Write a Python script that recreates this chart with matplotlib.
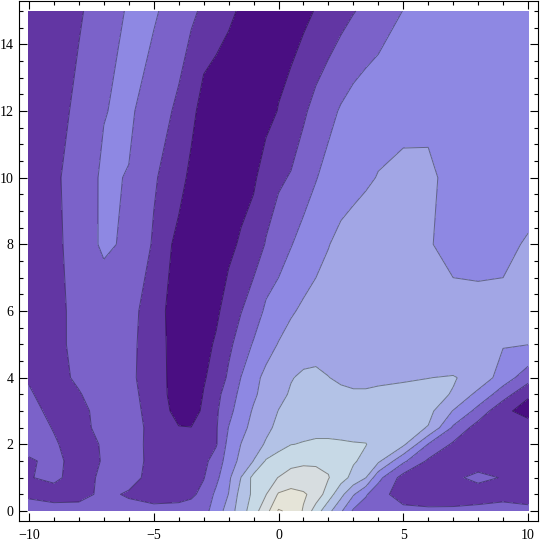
import numpy as np
import matplotlib.pyplot as plt

# grid (value k..k+1 = k-th shade band)
xs = [-10, -9, -8, -7, -6, -5, -4, -3.5, -3, -2.5, -2, -1.5, -1, -0.5, 0,
      0.5, 1, 1.5, 2, 2.5, 3, 3.5, 4, 5, 6, 7, 8, 9, 10]
ys = [0, 0.5, 1, 1.5, 2, 2.5, 3, 3.5, 4, 5, 6, 8, 10, 12, 15]

z_y0_0 = [2.4, 2.4, 2.35, 2.4, 2.3, 2.3, 2.4, 2.5, 2.7, 3.4, 4.5, 5.5, 6.6, 7.6, 9.1,
          8.8, 7.9, 6.5, 5.3, 4.15, 2.85, 2.5, 2.35, 2.3, 2.2, 2.2, 2.25, 2.3, 2.3]
z_y0_5 = [1.85, 1.6, 1.7, 2.2, 1.9, 1.6, 1.6, 1.8, 2.3, 3.2, 4.02, 5.4, 6.2, 6.97, 8.1,
          8.4, 8.15, 7.6, 6.5, 5.3, 4.1, 3.1, 2.4, 1.5, 1.4, 1.45, 1.6, 1.75, 1.5]
z_y1_0 = [1.95, 2.2, 1.6, 2.2, 2.3, 1.7, 1.45, 1.5, 1.95, 2.75, 3.8, 5.02, 6.3, 6.75, 7.02,
          7.25, 7.25, 7.2, 7.05, 6.4, 5.7, 5.02, 3.3, 1.6, 1.3, 1.85, 2.2, 1.95, 1.6]
z_y1_5 = [1.9, 2.2, 1.7, 2.05, 2.3, 1.8, 1.4, 1.45, 1.7, 2.5, 3.4, 4.3, 5.02, 6.1, 6.5,
          6.8, 6.9, 6.9, 6.8, 6.6, 6.1, 5.75, 5.2, 3.2, 1.85, 1.45, 1.6, 1.7, 1.6]
z_y2_0 = [2.3, 2.1, 1.6, 2.1, 2.35, 1.75, 1.3, 1.25, 1.45, 1.9, 3.3, 4.02, 4.6, 5.1, 5.6,
          5.98, 6.05, 6.08, 6.08, 6.07, 6.05, 6.03, 5.6, 5.2, 2.95, 1.85, 1.5, 1.4, 1.45]
z_y2_5 = [2.4, 1.95, 1.7, 2.3, 2.3, 1.8, 1.05, 1.02, 1.5, 1.9, 3.02, 3.7, 4.3, 4.8, 5.2,
          5.55, 5.75, 5.85, 5.85, 5.8, 5.7, 5.65, 5.55, 5.4, 4.95, 2.85, 1.55, 1.02, 1.35]
z_y3_0 = [2.3, 1.75, 1.85, 2.2, 2.25, 1.75, 0.6, 0.5, 1.2, 1.85, 2.7, 3.5, 4.1, 4.6, 5.02,
          5.35, 5.55, 5.65, 5.6, 5.5, 5.4, 5.35, 5.35, 5.3, 5.3, 3.95, 2.68, 1.17, 0.72]
z_y3_5 = [2.05, 1.8, 1.98, 2.15, 2.2, 1.7, 0.4, 0.3, 1.05, 1.75, 2.4, 3.3, 3.85, 4.35, 4.75,
          5.1, 5.3, 5.35, 5.3, 5.2, 5.1, 5.1, 5.15, 5.2, 5.2, 4.96, 3.7, 2.5, 1.1]
z_y4 = [1.96, 1.9, 2.05, 2.2, 2.15, 1.65, 0.4, 0.3, 0.9, 1.4, 2.15, 3.02, 3.7, 4.25, 4.65,
        4.95, 5.15, 5.2, 5.02, 4.85, 4.8, 4.8, 4.85, 4.92, 4.99, 5.05, 4.74, 3.49, 2.47]
z_y5 = [1.7, 1.9, 2.1, 2.25, 2.15, 1.7, 0.3, 0.2, 0.5, 1.2, 1.8, 2.4, 3.1, 3.6, 4.05,
        4.35, 4.55, 4.6, 4.6, 4.6, 4.6, 4.6, 4.6, 4.55, 4.45, 4.3, 4.15, 4.07, 4.02]
z_y6 = [1.6, 1.85, 2.15, 2.3, 2.2, 1.7, 0.2, 0.15, 0.25, 0.7, 1.7, 1.97, 2.4, 3.2, 3.5,
        3.9, 4.15, 4.3, 4.4, 4.45, 4.5, 4.5, 4.5, 4.45, 4.35, 4.2, 4.12, 4.07, 4.05]
z_y8 = [1.5, 1.8, 2.35, 3.2, 2.8, 1.9, 0.65, 0.45, 0.3, 0.3, 0.6, 1.22, 1.6, 2.05, 2.5,
        2.95, 3.37, 3.7, 3.97, 4.22, 4.35, 4.4, 4.4, 4.3, 4.05, 3.8, 3.85, 3.93, 4.03]
z_y10 = [1.5, 1.8, 2.5, 3.15, 2.95, 2.1, 1.45, 0.7, 0.45, 0.3, 0.25, 0.35, 0.8, 1.6, 1.85,
         2.07, 2.5, 2.95, 3.35, 3.6, 3.75, 3.9, 4.03, 4.12, 4.1, 3.84, 3.85, 3.85, 3.85]
z_y12 = [1.5, 1.75, 2.15, 2.96, 3.2, 2.37, 1.86, 1.35, 0.5, 0.3, 0.2, 0.2, 0.35, 0.6, 1.05,
         1.4, 1.85, 2.32, 2.7, 3.1, 3.4, 3.6, 3.72, 3.85, 3.88, 3.8, 3.75, 3.7, 3.7]
z_y15 = [1.5, 1.7, 1.93, 2.3, 3.15, 3.15, 2.4, 2.15, 1.86, 1.55, 1.2, 0.87, 0.6, 0.45, 0.4,
         0.5, 0.75, 1.06, 1.35, 1.65, 1.95, 2.2, 2.45, 3.02, 3.3, 3.5, 3.6, 3.65, 3.7]

shades = ['#4a0e82', '#6236a3', '#7b62c9', '#8e88e3', '#a2a6e5',
          '#b3c2e6', '#c7d9e6', '#d7dde0', '#e5e4d8', '#f1ead6']

Z = np.array([z_y0_0, z_y0_5, z_y1_0, z_y1_5, z_y2_0, z_y2_5, z_y3_0, z_y3_5,
              z_y4, z_y5, z_y6, z_y8, z_y10, z_y12, z_y15])
X, Y = np.meshgrid(xs, ys)
levels = np.arange(0, 11)

fig = plt.figure(figsize=(5.4, 5.44), dpi=100)
ax = fig.add_axes([19/540, 23/544, 519/540, 520/544])

ax.contourf(X, Y, Z, levels=levels, colors=shades)
ax.contour(X, Y, Z, levels=levels[1:-1], colors='k', linewidths=0.7, alpha=0.4)

ax.set_xlim(-10.4, 10.4)
ax.set_ylim(-0.3, 15.3)
ax.set_xticks([-10, -5, 0, 5, 10])
ax.set_xticklabels(['\u221210', '\u22125', '0', '5', '10'])
ax.set_xticks(np.arange(-10, 11, 1), minor=True)
ax.set_yticks(np.arange(0, 15, 2))
ax.set_yticks(np.arange(0, 15.1, 0.5), minor=True)
ax.tick_params(which='both', direction='in', top=True, right=True, width=0.8)
ax.tick_params(which='major', length=6)
ax.tick_params(which='minor', length=3)
ax.tick_params(axis='x', pad=6)
ax.tick_params(axis='y', pad=4)
for lab in ax.get_xticklabels() + ax.get_yticklabels():
    lab.set_fontfamily('Liberation Serif')
    lab.set_fontsize(10)
for s in ax.spines.values():
    s.set_linewidth(0.8)

fig.savefig('out.png', dpi=100)
